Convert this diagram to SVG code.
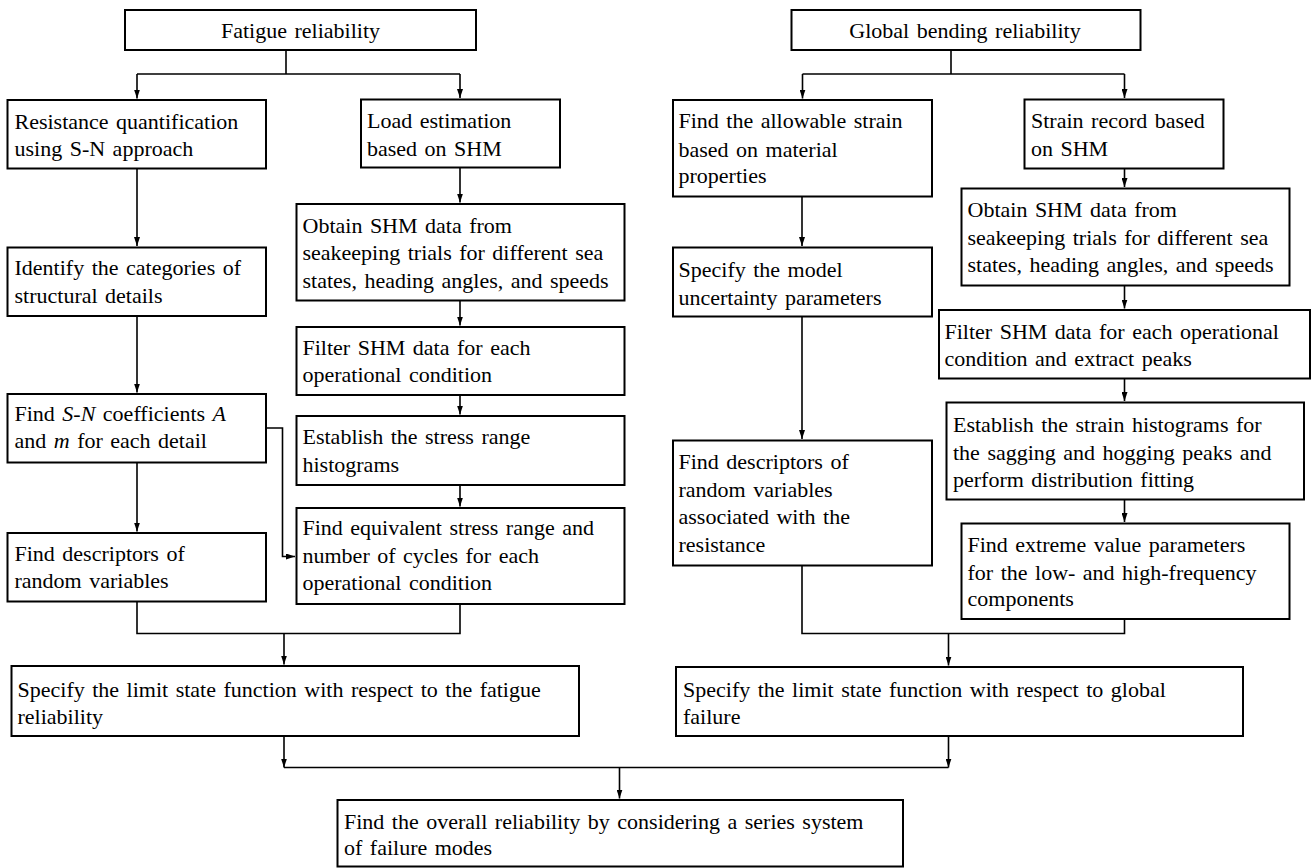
<svg xmlns="http://www.w3.org/2000/svg" width="1312" height="868" viewBox="0 0 1312 868">
<style>
.box{fill:#fff;stroke:#000;stroke-width:2}
.t{font-family:'Liberation Serif','Times New Roman',Times,serif;font-size:22px;fill:#000;word-spacing:2px}
.c{text-anchor:middle}
.ln{fill:none;stroke:#000;stroke-width:1.6}
.ar{fill:none;stroke:#000;stroke-width:1.6;marker-end:url(#ah)}
</style>
<defs>
<marker id="ah" viewBox="0 0 10 10" refX="10" refY="5" markerWidth="9" markerHeight="6" markerUnits="userSpaceOnUse" orient="auto" preserveAspectRatio="none">
<path d="M0,0 L10,5 L0,10 z" fill="#000"/>
</marker>
</defs>
<rect width="1312" height="868" fill="#fff"/>
<g id="connectors">
<path class="ln" d="M286,50 V74 M137,74 H460"/>
<path class="ar" d="M137,74 V98.5"/>
<path class="ar" d="M460,74 V98"/>
<path class="ar" d="M137,168.5 V246"/>
<path class="ar" d="M137,316 V392.5"/>
<path class="ar" d="M137,462.5 V531.5"/>
<path class="ar" d="M460,167.5 V202.5"/>
<path class="ar" d="M460,300.5 V325.5"/>
<path class="ar" d="M460,395 V414.5"/>
<path class="ar" d="M460,485 V506.5"/>
<path class="ar" d="M266,428 H282.5 V556.5 H295"/>
<path class="ln" d="M137,601.5 V633.5 H460 V604"/>
<path class="ar" d="M284,633.5 V664.5"/>
<path class="ln" d="M951,50 V74 M802.5,74 H1124.5"/>
<path class="ar" d="M802.5,74 V98.5"/>
<path class="ar" d="M1124.5,74 V98"/>
<path class="ar" d="M802,196.5 V246"/>
<path class="ar" d="M802,316.5 V439"/>
<path class="ar" d="M1124.5,168.5 V187"/>
<path class="ar" d="M1124.5,285.5 V308.5"/>
<path class="ar" d="M1124.5,378.5 V401"/>
<path class="ar" d="M1124.5,499.5 V522"/>
<path class="ln" d="M802,565.5 V633.5 H1124.5 V619"/>
<path class="ar" d="M948.5,633.5 V665.5"/>
<path class="ar" d="M284,736 V767.5"/>
<path class="ar" d="M948.5,736 V767.5"/>
<path class="ln" d="M284,767.5 H948.5"/>
<path class="ar" d="M619.5,767.5 V798.5"/>
</g>
<g id="fatigue">
<rect class="box" x="125" y="10" width="351" height="40"/>
<text class="t c" x="300.5" y="38">Fatigue reliability</text>
</g>
<g id="global">
<rect class="box" x="791.5" y="10" width="349" height="40"/>
<text class="t c" x="965" y="38">Global bending reliability</text>
</g>
<g id="resistance">
<rect class="box" x="7.5" y="100" width="258.5" height="68.5"/>
<text class="t" x="14.5" y="128.5">Resistance quantification</text>
<text class="t" x="14.5" y="156">using S-N approach</text>
</g>
<g id="load">
<rect class="box" x="361" y="99.5" width="199" height="68"/>
<text class="t" x="367" y="128">Load estimation</text>
<text class="t" x="367" y="156">based on SHM</text>
</g>
<g id="obtain-left">
<rect class="box" x="296.5" y="204" width="328" height="96.5"/>
<text class="t" x="302.5" y="232.5">Obtain SHM data from</text>
<text class="t" x="302.5" y="260">seakeeping trials for different sea</text>
<text class="t" x="302.5" y="287.5">states, heading angles, and speeds</text>
</g>
<g id="identify">
<rect class="box" x="7.5" y="247.5" width="258.5" height="68.5"/>
<text class="t" x="14.5" y="275">Identify the categories of</text>
<text class="t" x="14.5" y="303">structural details</text>
</g>
<g id="filter-left">
<rect class="box" x="296.5" y="327" width="328" height="68"/>
<text class="t" x="302.5" y="355">Filter SHM data for each</text>
<text class="t" x="302.5" y="381.5">operational condition</text>
</g>
<g id="stress-hist">
<rect class="box" x="296.5" y="416" width="328" height="69"/>
<text class="t" x="302.5" y="444">Establish the stress range</text>
<text class="t" x="302.5" y="471.5">histograms</text>
</g>
<g id="equivalent">
<rect class="box" x="296.5" y="508" width="328" height="96"/>
<text class="t" x="302.5" y="535">Find equivalent stress range and</text>
<text class="t" x="302.5" y="563">number of cycles for each</text>
<text class="t" x="302.5" y="590">operational condition</text>
</g>
<g id="sn-coeff">
<rect class="box" x="7.5" y="394" width="258.5" height="68.5"/>
<text class="t" x="14.5" y="420.5">Find <tspan font-style="italic">S-N</tspan> coefficients <tspan font-style="italic">A</tspan></text>
<text class="t" x="14.5" y="448">and <tspan font-style="italic">m</tspan> for each detail</text>
</g>
<g id="descriptors-left">
<rect class="box" x="7.5" y="533" width="258.5" height="68.5"/>
<text class="t" x="14.5" y="560.5">Find descriptors of</text>
<text class="t" x="14.5" y="587.5">random variables</text>
</g>
<g id="limit-fatigue">
<rect class="box" x="11.5" y="666" width="567.5" height="70"/>
<text class="t" x="17.5" y="696.5">Specify the limit state function with respect to the fatigue</text>
<text class="t" x="17.5" y="723.5">reliability</text>
</g>
<g id="allowable">
<rect class="box" x="673" y="100" width="259" height="96.5"/>
<text class="t" x="678.5" y="128">Find the allowable strain</text>
<text class="t" x="678.5" y="156.5">based on material</text>
<text class="t" x="678.5" y="183">properties</text>
</g>
<g id="strain-record">
<rect class="box" x="1024.5" y="99.5" width="199" height="69"/>
<text class="t" x="1031" y="128">Strain record based</text>
<text class="t" x="1031" y="156">on SHM</text>
</g>
<g id="obtain-right">
<rect class="box" x="961.5" y="188.5" width="328" height="97"/>
<text class="t" x="967.5" y="216.5">Obtain SHM data from</text>
<text class="t" x="967.5" y="245">seakeeping trials for different sea</text>
<text class="t" x="967.5" y="271.5">states, heading angles, and speeds</text>
</g>
<g id="model-uncertainty">
<rect class="box" x="673" y="247.5" width="259" height="69"/>
<text class="t" x="678.5" y="276.5">Specify the model</text>
<text class="t" x="678.5" y="305">uncertainty parameters</text>
</g>
<g id="filter-right">
<rect class="box" x="939" y="310" width="371" height="68.5"/>
<text class="t" x="944.5" y="338.5">Filter SHM data for each operational</text>
<text class="t" x="944.5" y="366">condition and extract peaks</text>
</g>
<g id="strain-hist">
<rect class="box" x="946.5" y="402.5" width="357.5" height="97"/>
<text class="t" x="953" y="431.5">Establish the strain histograms for</text>
<text class="t" x="953" y="459.5">the sagging and hogging peaks and</text>
<text class="t" x="953" y="486.5">perform distribution fitting</text>
</g>
<g id="extreme">
<rect class="box" x="961.5" y="523.5" width="328" height="95.5"/>
<text class="t" x="967.5" y="551.5">Find extreme value parameters</text>
<text class="t" x="967.5" y="579.5">for the low- and high-frequency</text>
<text class="t" x="967.5" y="606">components</text>
</g>
<g id="descriptors-right">
<rect class="box" x="673" y="440.5" width="259" height="125"/>
<text class="t" x="678.5" y="468.5">Find descriptors of</text>
<text class="t" x="678.5" y="496.5">random variables</text>
<text class="t" x="678.5" y="524">associated with the</text>
<text class="t" x="678.5" y="551.5">resistance</text>
</g>
<g id="limit-global">
<rect class="box" x="676" y="667" width="567" height="69"/>
<text class="t" x="683" y="696.5">Specify the limit state function with respect to global</text>
<text class="t" x="683" y="723.5">failure</text>
</g>
<g id="overall">
<rect class="box" x="337.5" y="800" width="565.5" height="66.5"/>
<text class="t" x="344" y="828.5">Find the overall reliability by considering a series system</text>
<text class="t" x="344" y="855">of failure modes</text>
</g>
</svg>
